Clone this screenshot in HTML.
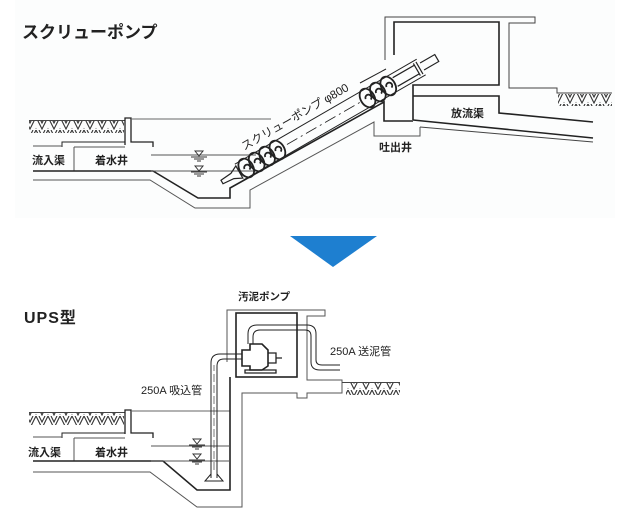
<!DOCTYPE html>
<html><head><meta charset="utf-8"><style>
html,body{margin:0;padding:0;background:#fff;width:640px;height:522px;overflow:hidden}
svg{display:block}
text{font-family:"Liberation Sans","Noto Sans CJK JP",sans-serif;fill:#222}
</style></head><body>
<svg width="640" height="522" viewBox="0 0 640 522" xmlns="http://www.w3.org/2000/svg">
<defs>
<pattern id="h" x="0" y="0" width="12" height="13" patternUnits="userSpaceOnUse">
<path d="M0,0 L6,12 L12,0 M3,0 L6,6 L9,0 M-3,6 L0,12 M12,12 L15,6" stroke="#333" stroke-width="1.1" fill="none"/>
</pattern>
</defs>
<rect x="15" y="0" width="600" height="218" fill="#fcfdfd"/>
<text x="22" y="38" font-size="17" font-weight="bold">スクリューポンプ</text>
<g fill="none" stroke="#222" stroke-width="1.3">
<!-- top left -->
<rect x="29" y="121" width="95" height="12" fill="url(#h)" stroke="none"/>
<path d="M29,120.5 H125" stroke="#444" stroke-width="1"/>
<path d="M125,145 V118 H131 V142 H153 V147" />
<path d="M131,119 H271" stroke="#666" stroke-width="1"/>
<path d="M62,147 V142 H125" stroke-width="1"/>
<path d="M33,146 H62 M74,147 V171 M74,147 H125" stroke="#555" stroke-width="1"/>
<path d="M33,171 H153 L198,198 H230 V188 L384,102 V121 H413" stroke-width="1.6"/>
<path d="M33,180 H150 L195,208 H250 V190 L374,122 V136 H420 V127" stroke="#555" stroke-width="1"/>
<path d="M151,155 H256 M151,171 H256" stroke="#555" stroke-width="1"/>
<!-- right structure -->
<path d="M385,60 V17 H535 V23 H509 V88 H557 V93 H612" stroke="#444" stroke-width="1"/>
<path d="M394,55 V22 H499 V85 H413 V120" stroke-width="1.6"/>
<path d="M413,96 H499 V113 L593,122" stroke-width="1.6"/>
<path d="M413,120 L593,138" stroke-width="1.6"/>
<path d="M420,127 L593,142" stroke="#444" stroke-width="1"/>
<path d="M360,83 L386,69" stroke-width="1"/>
<rect x="558" y="94" width="54" height="12" fill="url(#h)" stroke="none"/>
</g>
<!-- water marks top -->
<g stroke="#333" stroke-width="1" fill="none">
<path d="M195,151 L199,156 L203,151 Z M191,157 H207 M194,159 H204 M197,161 H201"/>
<path d="M195,166 L199,171 L203,166 Z M191,172 H207 M194,174 H204 M197,176 H201"/>
</g>
<!-- screw -->
<g transform="translate(222,182) rotate(-30)" fill="none" stroke="#222" stroke-width="1.2">
<path d="M0,-2 L12,-3 L20,-7 V7 L12,3 L0,2 Z"/>
<path d="M20,-9 H230 M20,9 H230" stroke-width="1"/>
<path d="M75,0 H160" stroke-dasharray="12,4,2,4" stroke-width="0.8"/>
<g stroke-width="1.8">
<ellipse cx="28" cy="0" rx="7" ry="10"/><ellipse cx="40" cy="0" rx="7" ry="10"/><ellipse cx="52" cy="0" rx="7" ry="10"/><ellipse cx="64" cy="0" rx="7" ry="10"/>
<ellipse cx="168" cy="0" rx="7" ry="10"/><ellipse cx="180" cy="0" rx="7" ry="10"/><ellipse cx="192" cy="0" rx="7" ry="10"/>
<path d="M26,0 A3,3 0 1 1 30,3 M38,0 A3,3 0 1 1 42,3 M50,0 A3,3 0 1 1 54,3 M62,0 A3,3 0 1 1 66,3 M166,0 A3,3 0 1 1 170,3 M178,0 A3,3 0 1 1 182,3 M190,0 A3,3 0 1 1 194,3"/>
</g>
<path d="M200,-5 H225 V5 H200 M225,-7 V7 M228,-7 V7 M231,-4 H248 V4 H231"/>
<text x="35" y="-16" font-size="11.5" stroke="none" fill="#222">スクリューポンプ φ800</text>
</g>
<text x="32" y="164" font-size="11" font-weight="bold">流入渠</text>
<text x="95" y="164" font-size="11" font-weight="bold">着水井</text>
<text x="379" y="151" font-size="11" font-weight="bold">吐出井</text>
<text x="451" y="117" font-size="11" font-weight="bold">放流渠</text>

<!-- arrow -->
<polygon points="290,236 377,236 333,267" fill="#1e7fd0"/>

<!-- bottom -->
<text x="24" y="323" font-size="16" font-weight="bold" letter-spacing="1">UPS型</text>
<text x="238" y="300" font-size="10.5" font-weight="bold">汚泥ポンプ</text>
<g fill="none" stroke="#222" stroke-width="1.3">
<rect x="29" y="413" width="95" height="12" fill="url(#h)" stroke="none"/>
<path d="M29,412.5 H125" stroke="#444" stroke-width="1"/>
<path d="M125,434 V410 H131 V433 H153 V438"/>
<path d="M131,411 H230" stroke="#666" stroke-width="1"/>
<path d="M62,438 V433 H125" stroke-width="1"/>
<path d="M33,437 H62 M74,438 V461 M74,438 H125" stroke="#555" stroke-width="1"/>
<path d="M33,461 H163 L197,490 H230 V377" stroke-width="1.6"/>
<path d="M33,472 H150 L197,507 H242 V393 H297 V398 H307 V393 H342 V380 H307 V316 H325 V310 H227 V362" stroke="#555" stroke-width="1"/>
<path d="M151,446 H230 M151,461 H230" stroke="#555" stroke-width="1"/>
<rect x="236" y="313" width="61" height="64" stroke-width="1.6"/>
<rect x="346" y="383" width="54" height="12" fill="url(#h)" stroke="none"/>
<path d="M342,382.5 H400" stroke="#444" stroke-width="1"/>
<!-- suction pipe -->
<path d="M211,478 V363 Q211,354 220,354 H242 M217,478 V366 Q217,359 224,359 H242" stroke-width="1"/>
<path d="M214,470 V365" stroke-dasharray="8,3" stroke-width="0.6"/>
<path d="M211,474 L205,481 H223 L217,474" stroke-width="1"/>
<!-- pump -->
<path d="M242,350 H250 V344 H262 L268,350 V366 L262,370 H250 V366 H242 Z" stroke-width="1.6"/>
<path d="M268,353 H276 V363 H268 M276,358 H282" stroke-width="1.3"/>
<path d="M245,370 H276 V373 H245 Z" stroke-width="1.3"/>
<!-- discharge pipe -->
<path d="M248,344 V334 Q248,325 257,325 H307 Q316,325 316,334 V360 Q316,365 322,365 H340 M253,344 V337 Q253,330 260,330 H305 Q311,330 311,336 V362 Q311,370 320,370 H340" stroke-width="1"/>
</g>
<g stroke="#333" stroke-width="1" fill="none">
<path d="M193,439 L197,444 L201,439 Z M189,445 H205 M192,447 H202 M195,449 H199"/>
<path d="M193,454 L197,459 L201,454 Z M189,460 H205 M192,462 H202 M195,464 H199"/>
</g>
<text x="141" y="394" font-size="11">250A 吸込管</text>
<text x="330" y="355" font-size="11">250A 送泥管</text>
<text x="28" y="456" font-size="11" font-weight="bold">流入渠</text>
<text x="95" y="456" font-size="11" font-weight="bold">着水井</text>
</svg>
</body></html>
